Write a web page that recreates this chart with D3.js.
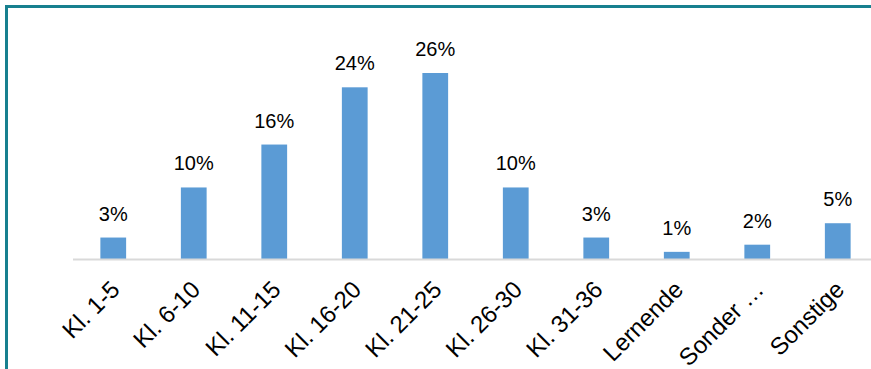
<!DOCTYPE html>
<html>
<head>
<meta charset="utf-8">
<script src="https://cdn.jsdelivr.net/npm/d3@7"></script>
<style>
  body { margin: 0; background: #fff; }
  svg { display: block; font-family: "Liberation Sans", Arial, sans-serif; }
</style>
</head>
<body>
<div id="chart"></div>
<script>
var categories = ["Kl. 1-5", "Kl. 6-10", "Kl. 11-15", "Kl. 16-20", "Kl. 21-25", "Kl. 26-30", "Kl. 31-36", "Lernende", "Sonder …", "Sonstige"];
var values = [3, 10, 16, 24, 26, 10, 3, 1, 2, 5];
var valueLabels = ["3%", "10%", "16%", "24%", "26%", "10%", "3%", "1%", "2%", "5%"];

var W = 871, H = 369;
var baseY = 259;

var svg = d3.select("#chart").append("svg")
  .attr("width", W)
  .attr("height", H);

// frame (only left and top edges are inside the window)
svg.append("rect")
  .attr("x", 6.5).attr("y", 6.5)
  .attr("width", W + 20).attr("height", H + 20)
  .attr("fill", "none")
  .attr("stroke", "#17808f")
  .attr("stroke-width", 3);

var x = d3.scaleBand().domain(categories).range([73, 878]).paddingInner(0.68).paddingOuter(0.34);
var y = d3.scaleLinear().domain([0, 26]).range([baseY, 73]);

var data = categories.map(function(c, i){ return {cat: c, v: values[i], lab: valueLabels[i]}; });

svg.selectAll("rect.bar")
  .data(data)
  .enter()
  .append("rect")
  .attr("class", "bar")
  .attr("x", function(d){ return x(d.cat); })
  .attr("y", function(d){ return y(d.v); })
  .attr("width", x.bandwidth())
  .attr("height", function(d){ return baseY - y(d.v); })
  .attr("fill", "#5b9bd5");

svg.append("line")
  .attr("x1", 73).attr("x2", W)
  .attr("y1", baseY + 0.5).attr("y2", baseY + 0.5)
  .attr("stroke", "#d9d9d9")
  .attr("stroke-width", 2);

svg.selectAll("text.val")
  .data(data)
  .enter()
  .append("text")
  .attr("class", "val")
  .attr("x", function(d){ return x(d.cat) + x.bandwidth() / 2; })
  .attr("y", function(d){ return y(d.v) - 17; })
  .attr("text-anchor", "middle")
  .attr("font-size", "20px")
  .attr("fill", "#000")
  .text(function(d){ return d.lab; });

svg.selectAll("text.cat")
  .data(data)
  .enter()
  .append("text")
  .attr("class", "cat")
  .attr("text-anchor", "end")
  .attr("font-size", "24px")
  .attr("fill", "#000")
  .attr("transform", function(d){
    var cx = x(d.cat) + x.bandwidth() / 2;
    return "translate(" + (cx + 8) + "," + (baseY + 32) + ") rotate(-45)";
  })
  .text(function(d){ return d.cat; });
</script>
</body>
</html>
